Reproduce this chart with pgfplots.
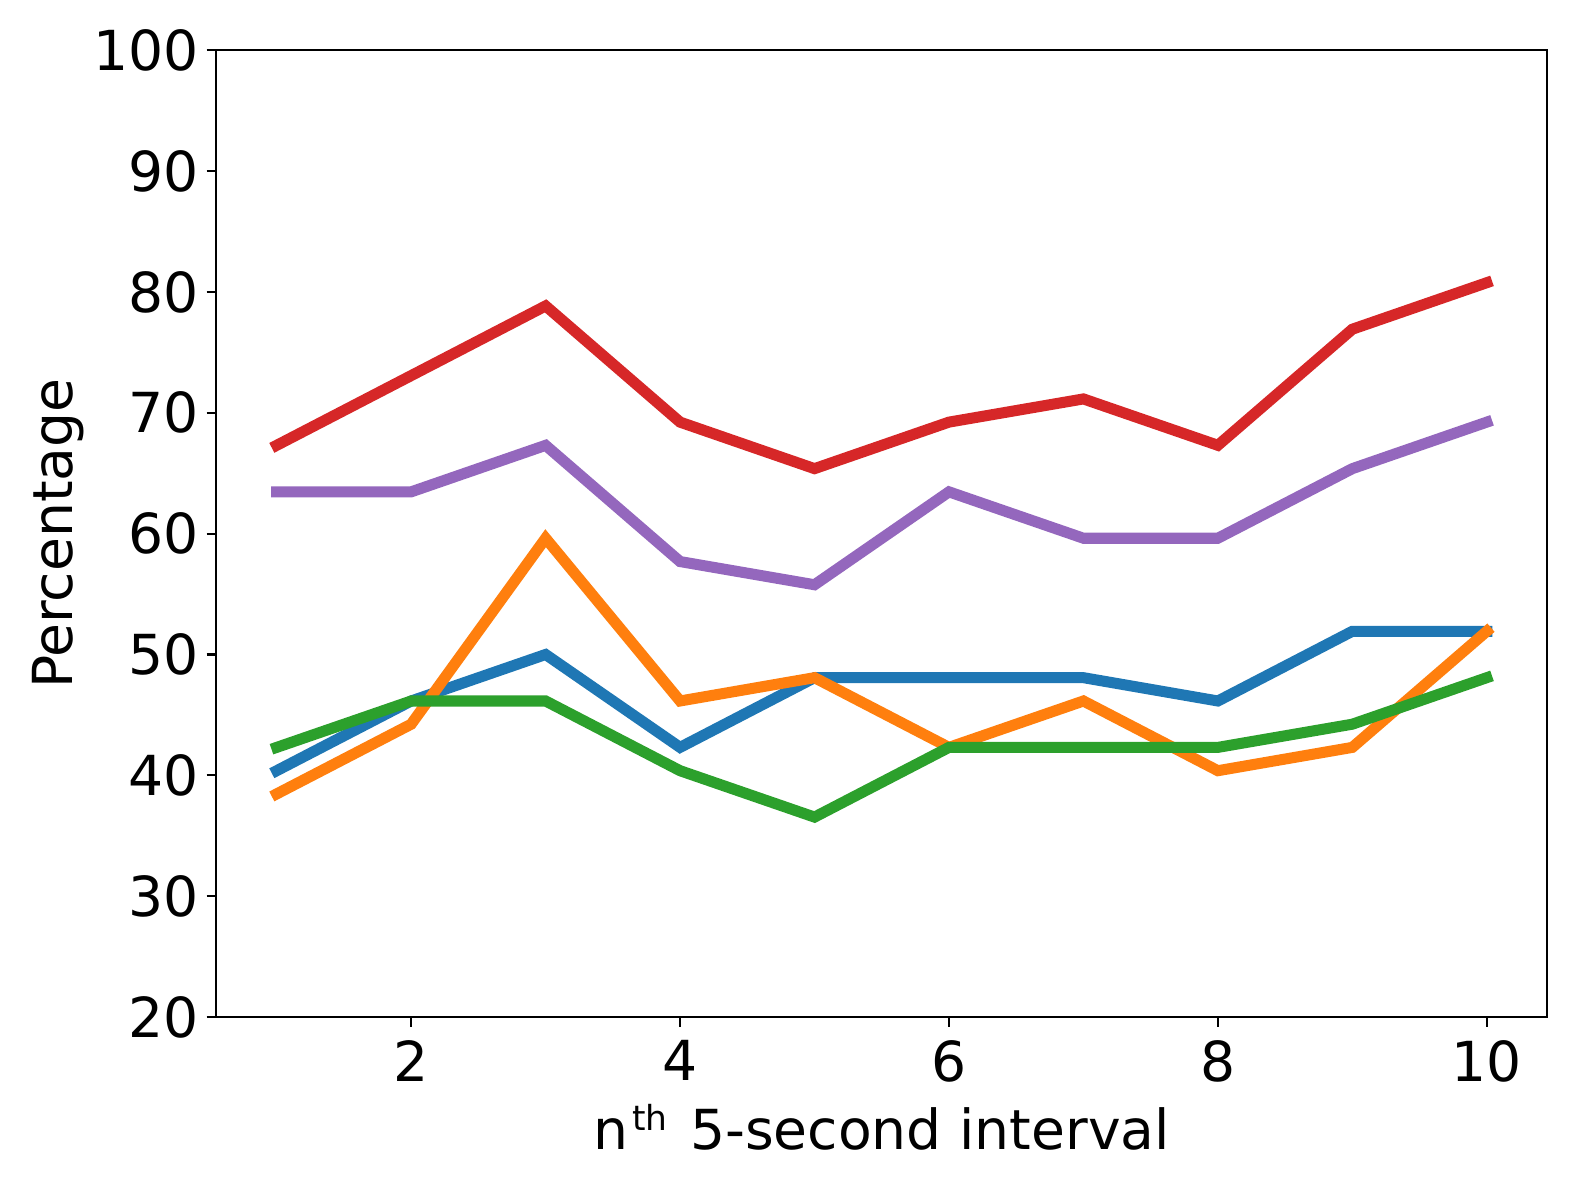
\documentclass[border=0pt]{standalone}
\usepackage{fontspec}
\setmainfont{DejaVu Sans}
\usepackage{pgfplots}
\pgfplotsset{compat=1.18}

\definecolor{c0}{HTML}{1F77B4}
\definecolor{c1}{HTML}{FF7F0E}
\definecolor{c2}{HTML}{2CA02C}
\definecolor{c3}{HTML}{D62728}
\definecolor{c4}{HTML}{9467BD}

\begin{document}
\begin{tikzpicture}
\begin{axis}[
  scale only axis,
  width=386pt, height=280.3pt,
  xmin=0.55, xmax=10.45,
  ymin=20, ymax=100,
  xtick={2,4,6,8,10},
  ytick={20,30,...,100},
  tick align=outside,
  major tick length=2.8pt,
  tick style={black, line width=0.6pt},
  axis line style={line width=0.6pt},
  xtick pos=bottom, ytick pos=left,
  /pgf/number format/assume math mode=true,
  tick label style={font=\fontsize{16}{19}\selectfont},
  every tick label/.append style={inner sep=0pt},
  xticklabel style={yshift=-3.8pt},
  yticklabel style={xshift=-2pt},
  label style={font=\fontsize{16}{19}\selectfont},
  xlabel={n\raisebox{5.5pt}{\fontsize{10}{11}\selectfont\kern1pt th}\kern1.5pt{} 5-second interval},
  xlabel style={at={(axis description cs:0.5,0)}, anchor=base, yshift=-38.5pt, inner sep=0pt},
  ylabel={Percentage},
  ylabel style={at={(axis description cs:0,0.5)}, anchor=base, yshift=41.8pt, inner sep=0pt},
  every axis plot/.append style={line width=3.2pt, line cap=rect, line join=miter},
  clip=false,
]
% blue
\addplot[c0] coordinates {(1,40.38) (2,46.15) (3,50.00) (4,42.31) (5,48.08) (6,48.08) (7,48.08) (8,46.15) (9,51.92) (10,51.92)};
% orange
\addplot[c1] coordinates {(1,38.46) (2,44.23) (3,59.62) (4,46.15) (5,48.08) (6,42.31) (7,46.15) (8,40.38) (9,42.31) (10,51.92)};
% green
\addplot[c2] coordinates {(1,42.31) (2,46.15) (3,46.15) (4,40.38) (5,36.54) (6,42.31) (7,42.31) (8,42.31) (9,44.23) (10,48.08)};
% red
\addplot[c3] coordinates {(1,67.31) (2,73.08) (3,78.85) (4,69.23) (5,65.38) (6,69.23) (7,71.15) (8,67.31) (9,76.92) (10,80.77)};
% purple
\addplot[c4] coordinates {(1,63.46) (2,63.46) (3,67.31) (4,57.69) (5,55.77) (6,63.46) (7,59.62) (8,59.62) (9,65.38) (10,69.23)};
\end{axis}
\pgfresetboundingbox
\useasboundingbox (-62.7pt,-48.2pt) rectangle (394.9pt,294.9pt);
\end{tikzpicture}
\end{document}
